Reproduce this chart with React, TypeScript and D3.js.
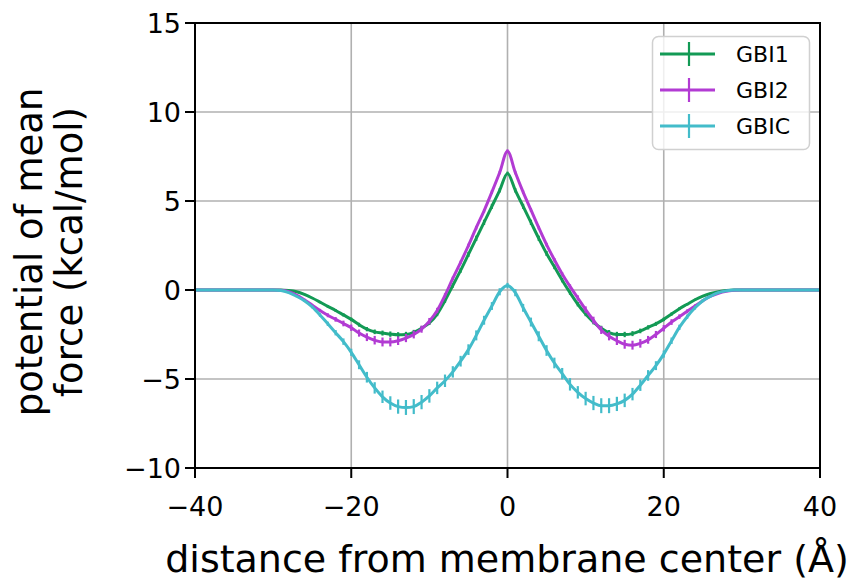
import React from "react";
import * as d3 from "d3";

const xValues = [
  -40, -39, -38, -37, -36, -35, -34, -33, -32, -31,
  -30, -29, -28, -27, -26, -25, -24, -23, -22, -21,
  -20, -19, -18, -17, -16, -15, -14, -13, -12, -11,
  -10, -9, -8, -7, -6, -5, -4, -3, -2, -1,
  0,
  1, 2, 3, 4, 5, 6, 7, 8, 9, 10,
  11, 12, 13, 14, 15, 16, 17, 18, 19, 20,
  21, 22, 23, 24, 25, 26, 27, 28, 29, 30,
  31, 32, 33, 34, 35, 36, 37, 38, 39, 40,
];

const gbi1 = [
  0, 0, 0, 0, 0, 0, 0, 0, 0, 0,
  0, 0, -0.03, -0.1, -0.25, -0.45, -0.68, -0.92, -1.15, -1.4,
  -1.65, -1.95, -2.2, -2.35, -2.42, -2.48, -2.52, -2.5, -2.38, -2.15,
  -1.85, -1.35, -0.6, 0.25, 1.1, 2.0, 2.9, 3.8, 4.7, 5.6,
  6.55,
  5.6, 4.7, 3.8, 2.9, 2.05, 1.3, 0.55, -0.15, -0.8, -1.35,
  -1.8, -2.15, -2.4, -2.5, -2.5, -2.45, -2.3, -2.1, -1.9, -1.65,
  -1.35, -1.05, -0.8, -0.55, -0.35, -0.2, -0.1, -0.03, 0, 0,
  0, 0, 0, 0, 0, 0, 0, 0, 0, 0,
];
const gbi1Err = [
  0, 0, 0, 0, 0, 0, 0, 0, 0, 0,
  0.01, 0.01, 0.02, 0.03, 0.04, 0.05, 0.06, 0.07, 0.08, 0.09,
  0.1, 0.11, 0.12, 0.13, 0.14, 0.15, 0.15, 0.15, 0.14, 0.13,
  0.12, 0.12, 0.12, 0.12, 0.13, 0.14, 0.15, 0.15, 0.14, 0.12,
  0.1,
  0.12, 0.14, 0.15, 0.15, 0.14, 0.13, 0.12, 0.12, 0.12, 0.12,
  0.13, 0.14, 0.15, 0.15, 0.15, 0.14, 0.13, 0.12, 0.11, 0.1,
  0.09, 0.08, 0.07, 0.06, 0.05, 0.04, 0.03, 0.02, 0.01, 0.01,
  0, 0, 0, 0, 0, 0, 0, 0, 0, 0,
];

const gbi2 = [
  0, 0, 0, 0, 0, 0, 0, 0, 0, 0,
  0, -0.02, -0.1, -0.28, -0.55, -0.85, -1.15, -1.42, -1.65, -1.88,
  -2.12, -2.42, -2.65, -2.82, -2.92, -2.92, -2.85, -2.7, -2.5, -2.2,
  -1.75, -1.15, -0.3, 0.65, 1.55, 2.5, 3.5, 4.45, 5.5, 6.6,
  7.8,
  6.6, 5.5, 4.5, 3.5, 2.55, 1.7, 0.9, 0.2, -0.45, -1.1,
  -1.7, -2.25, -2.6, -2.85, -3.05, -3.1, -3.0, -2.8, -2.5, -2.15,
  -1.8, -1.5, -1.2, -0.9, -0.6, -0.35, -0.18, -0.07, -0.02, 0,
  0, 0, 0, 0, 0, 0, 0, 0, 0, 0,
];
const gbi2Err = [
  0, 0, 0, 0, 0, 0, 0, 0, 0, 0,
  0.01, 0.02, 0.03, 0.04, 0.05, 0.07, 0.09, 0.11, 0.13, 0.16,
  0.18, 0.2, 0.22, 0.24, 0.25, 0.25, 0.24, 0.23, 0.22, 0.2,
  0.18, 0.15, 0.12, 0.1, 0.1, 0.1, 0.1, 0.1, 0.1, 0.1,
  0.1,
  0.1, 0.1, 0.1, 0.1, 0.1, 0.1, 0.1, 0.12, 0.15, 0.18,
  0.2, 0.22, 0.23, 0.24, 0.25, 0.25, 0.24, 0.22, 0.2, 0.18,
  0.16, 0.13, 0.11, 0.09, 0.07, 0.05, 0.04, 0.03, 0.02, 0.01,
  0, 0, 0, 0, 0, 0, 0, 0, 0, 0,
];

const gbic = [
  0, 0, 0, 0, 0, 0, 0, 0, 0, 0,
  0, -0.03, -0.15, -0.35, -0.6, -0.95, -1.4, -1.9, -2.4, -2.9,
  -3.5, -4.2, -4.9, -5.5, -6.0, -6.35, -6.55, -6.6, -6.55, -6.3,
  -5.95, -5.5, -5.1, -4.6, -4.0, -3.35, -2.55, -1.7, -0.9, -0.1,
  0.25,
  -0.15, -1.0, -1.8, -2.6, -3.4, -4.1, -4.7, -5.3, -5.75, -6.1,
  -6.35, -6.5, -6.5, -6.4, -6.2, -5.85, -5.35, -4.8, -4.25, -3.6,
  -2.85, -2.1, -1.5, -1.0, -0.6, -0.35, -0.15, -0.05, 0, 0,
  0, 0, 0, 0, 0, 0, 0, 0, 0, 0,
];
const gbicErr = [
  0, 0, 0, 0, 0, 0, 0, 0, 0, 0,
  0.02, 0.03, 0.04, 0.05, 0.06, 0.08, 0.1, 0.12, 0.15, 0.18,
  0.2, 0.25, 0.3, 0.32, 0.35, 0.38, 0.4, 0.42, 0.42, 0.4,
  0.38, 0.35, 0.35, 0.32, 0.3, 0.3, 0.28, 0.25, 0.22, 0.2,
  0.15,
  0.2, 0.22, 0.25, 0.28, 0.3, 0.3, 0.32, 0.35, 0.35, 0.38,
  0.4, 0.42, 0.42, 0.4, 0.38, 0.35, 0.32, 0.3, 0.25, 0.2,
  0.18, 0.15, 0.12, 0.1, 0.08, 0.06, 0.05, 0.04, 0.03, 0.02,
  0, 0, 0, 0, 0, 0, 0, 0, 0, 0,
];

const seriesNames = ["GBI1", "GBI2", "GBIC"];
const seriesColors = ["#139a55", "#b23bd3", "#43bcca"];
const seriesValues = [gbi1, gbi2, gbic];
const seriesErrors = [gbi1Err, gbi2Err, gbicErr];

const xTicks = [-40, -20, 0, 20, 40];
const yTicks = [-10, -5, 0, 5, 10, 15];

const W = 854;
const H = 580;
const left = 195;
const right = 820;
const top = 23;
const bottom = 468;
const FONT = "'DejaVu Sans', sans-serif";

const fmt = (v: number) => (v < 0 ? "\u2212" + Math.abs(v) : String(v));

export default function App() {
  const x = d3.scaleLinear().domain([-40, 40]).range([left, right]);
  const y = d3.scaleLinear().domain([-10, 15]).range([bottom, top]);

  const line = d3
    .line<number>()
    .x((_, i) => x(xValues[i]))
    .y((d) => y(d))
    .curve(d3.curveMonotoneX);

  return (
    <svg
      width={W}
      height={H}
      style={{ position: "absolute", left: 0, top: 0, background: "#fff" }}
    >
      <defs>
        <clipPath id="plot">
          <rect x={left} y={top} width={right - left} height={bottom - top} />
        </clipPath>
      </defs>
      {xTicks.map((t) => (
        <line
          key={"gx" + t}
          x1={x(t)}
          x2={x(t)}
          y1={top}
          y2={bottom}
          stroke="#b0b0b0"
          strokeWidth={1.6}
        />
      ))}
      {yTicks.map((t) => (
        <line
          key={"gy" + t}
          x1={left}
          x2={right}
          y1={y(t)}
          y2={y(t)}
          stroke="#b0b0b0"
          strokeWidth={1.6}
        />
      ))}
      <g clipPath="url(#plot)">
        {seriesValues.map((vals, s) => (
          <g key={seriesNames[s]}>
            <path
              d={line(vals) || ""}
              fill="none"
              stroke={seriesColors[s]}
              strokeWidth={3}
              strokeLinejoin="round"
            />
            {vals.map((v, i) =>
              seriesErrors[s][i] > 0 ? (
                <line
                  key={i}
                  x1={x(xValues[i])}
                  x2={x(xValues[i])}
                  y1={y(v - seriesErrors[s][i])}
                  y2={y(v + seriesErrors[s][i])}
                  stroke={seriesColors[s]}
                  strokeWidth={2.2}
                />
              ) : null
            )}
          </g>
        ))}
      </g>
      <rect
        x={left}
        y={top}
        width={right - left}
        height={bottom - top}
        fill="none"
        stroke="#000"
        strokeWidth={2}
      />
      {xTicks.map((t) => (
        <g key={"tx" + t}>
          <line x1={x(t)} x2={x(t)} y1={bottom} y2={bottom + 10} stroke="#000" strokeWidth={2} />
          <text
            x={x(t)}
            y={516}
            textAnchor="middle"
            fontFamily={FONT}
            fontSize={27}
            fill="#000"
          >
            {fmt(t)}
          </text>
        </g>
      ))}
      {yTicks.map((t) => (
        <g key={"ty" + t}>
          <line x1={left - 10} x2={left} y1={y(t)} y2={y(t)} stroke="#000" strokeWidth={2} />
          <text
            x={181}
            y={y(t) + 10}
            textAnchor="end"
            fontFamily={FONT}
            fontSize={27}
            fill="#000"
          >
            {fmt(t)}
          </text>
        </g>
      ))}
      <text
        x={507}
        y={572}
        textAnchor="middle"
        fontFamily={FONT}
        fontSize={38}
        fill="#000"
      >
        distance from membrane center (Å)
      </text>
      <g transform="translate(0,252) rotate(-90)">
        <text x={0} y={42} textAnchor="middle" fontFamily={FONT} fontSize={37} fill="#000">
          potential of mean
        </text>
        <text x={0} y={82} textAnchor="middle" fontFamily={FONT} fontSize={37} fill="#000">
          force (kcal/mol)
        </text>
      </g>
      <rect
        x={652.5}
        y={36.5}
        width={157}
        height={113}
        rx={6}
        fill="#fff"
        fillOpacity={0.8}
        stroke="#d0d0d0"
        strokeWidth={1.5}
      />
      {seriesNames.map((n, i) => {
        const cy = 54 + i * 36;
        return (
          <g key={"lg" + n}>
            <line x1={660} x2={715} y1={cy} y2={cy} stroke={seriesColors[i]} strokeWidth={3} />
            <line x1={689} x2={689} y1={cy - 12} y2={cy + 12} stroke={seriesColors[i]} strokeWidth={2.2} />
            <text x={736} y={cy + 8} fontFamily={FONT} fontSize={22} fill="#000">
              {n}
            </text>
          </g>
        );
      })}
    </svg>
  );
}
